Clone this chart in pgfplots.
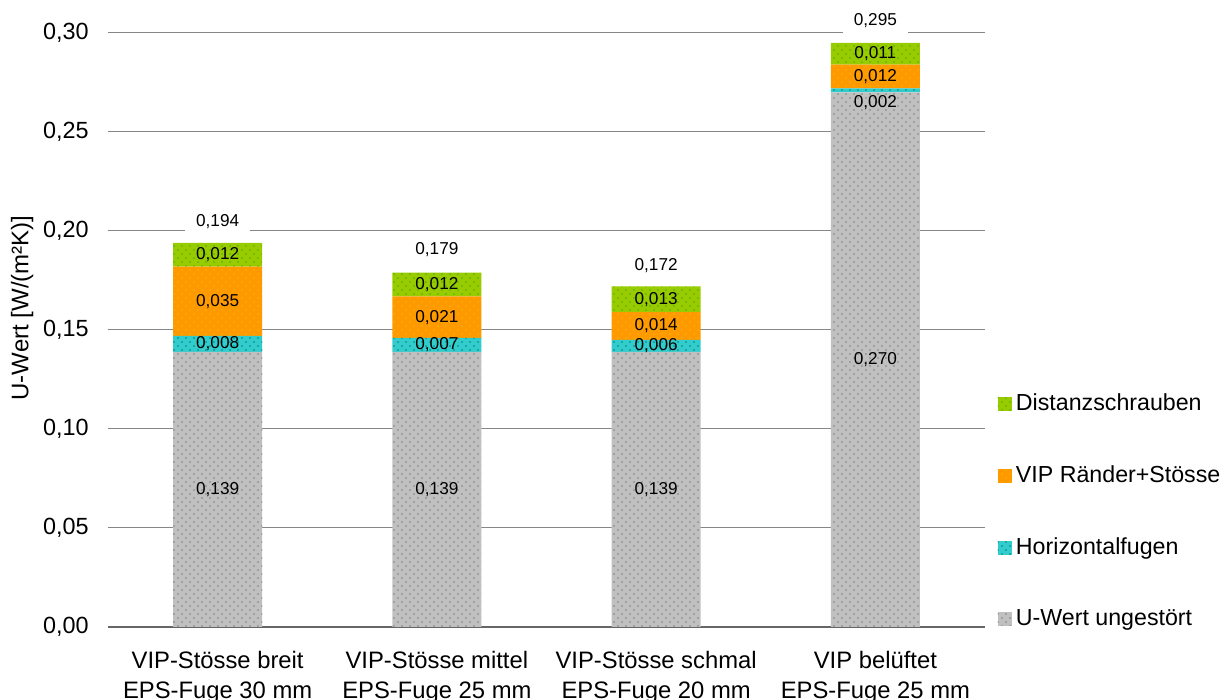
\documentclass[border=0pt]{standalone}
\usepackage{pgfplots}
\pgfplotsset{compat=1.18}
\usepackage{fontspec}
\setmainfont{Liberation Sans}
\usetikzlibrary{patterns.meta}
\definecolor{cgray}{HTML}{C0C0C0}
\definecolor{cteal}{HTML}{33CCCC}
\definecolor{corange}{HTML}{FF9900}
\definecolor{cgreen}{HTML}{99CC00}
\definecolor{gridgray}{HTML}{868686}
\tikzdeclarepattern{
  name=sparsedots,
  type=uncolored,
  bottom left={(-.5pt,-.5pt)},
  top right={(4.5pt,4.5pt)},
  tile size={(4pt,4pt)},
  code={\fill (1pt,1pt) circle (0.4pt); \fill (3pt,3pt) circle (0.4pt);}
}
\tikzset{
  lbl/.style={font=\fontsize{8.6}{10}\selectfont, inner sep=0pt},
  tot/.style={font=\fontsize{8.6}{10}\selectfont, fill=white, inner xsep=5.5pt, inner ysep=4pt},
}
\pgfplotsset{
  common/.style={
    at={(54pt,36.5pt)}, anchor=south west,
    scale only axis, width=438.5pt, height=297pt,
    xmin=-0.5, xmax=3.5, ymin=0, ymax=0.30,
  }
}
\begin{document}
\begin{tikzpicture}
\useasboundingbox (0,0) rectangle (614pt,350pt);
\begin{axis}[
  common,
  ybar stacked, bar width=44.5pt,
  xtick={0,1,2,3},
  xticklabels={{VIP-Stösse breit\\EPS-Fuge 30 mm},{VIP-Stösse mittel\\EPS-Fuge 25 mm},{VIP-Stösse schmal\\EPS-Fuge 20 mm},{VIP belüftet\\EPS-Fuge 25 mm}},
  xticklabel style={align=center, font=\fontsize{11.9}{15}\selectfont, anchor=north, yshift=-8.6pt},
  ytick={0,0.05,0.1,0.15,0.2,0.25,0.3},
  scaled y ticks=false,
  yticklabel style={font=\fontsize{11.7}{13}\selectfont, anchor=east, inner sep=0pt, xshift=-9.5pt,
    /pgf/number format/fixed, /pgf/number format/fixed zerofill,
    /pgf/number format/precision=2, /pgf/number format/use comma,
    /pgf/number format/assume math mode=true},
  ymajorgrids, grid style={draw=gridgray, line width=0.5pt},
  major tick length=0pt,
  axis x line*=bottom, axis y line*=left,
  x axis line style={-, draw=gray!80!black, line width=0.6pt},
  y axis line style={draw=none},
  ylabel={U-Wert [W/(m²K)]},
  ylabel style={at={(axis description cs:-0.098,0.537)}, anchor=center, font=\fontsize{12}{14}\selectfont},
  legend style={at={(axis description cs:1.0075,0.4064)}, anchor=north west, draw=none, fill=none,
    font=\fontsize{11.6}{13}\selectfont, row sep=22pt, legend cell align=left},
  reverse legend,
  legend image code/.code={\fill[#1] (0pt,-3.5pt) rectangle (7pt,3.5pt);},
]
\addplot[fill=cgray, draw=none, postaction={pattern=sparsedots, pattern color=gray}]
  coordinates {(0,0.139) (1,0.139) (2,0.139) (3,0.270)};
\addlegendentry{U-Wert ungestört}
\addplot[fill=cteal, draw=none, postaction={pattern=sparsedots, pattern color=teal}]
  coordinates {(0,0.008) (1,0.007) (2,0.006) (3,0.002)};
\addlegendentry{Horizontalfugen}
\addplot[fill=corange, draw=none, postaction={pattern=sparsedots, pattern color=orange!60!yellow}]
  coordinates {(0,0.035) (1,0.021) (2,0.014) (3,0.012)};
\addlegendentry{VIP Ränder+Stösse}
\addplot[fill=cgreen, draw=none, postaction={pattern=sparsedots, pattern color=green!40!olive}]
  coordinates {(0,0.012) (1,0.012) (2,0.013) (3,0.011)};
\addlegendentry{Distanzschrauben}
\end{axis}
\begin{axis}[common, hide axis, clip=false]
\node[lbl] at (axis cs:0,0.0695) {0,139};
\node[lbl] at (axis cs:0,0.143) {0,008};
\node[lbl] at (axis cs:0,0.1645) {0,035};
\node[lbl] at (axis cs:0,0.188) {0,012};
\node[tot] at (axis cs:0,0.2045) {0,194};
\node[lbl] at (axis cs:1,0.0695) {0,139};
\node[lbl] at (axis cs:1,0.1425) {0,007};
\node[lbl] at (axis cs:1,0.1565) {0,021};
\node[lbl] at (axis cs:1,0.173) {0,012};
\node[tot] at (axis cs:1,0.1905) {0,179};
\node[lbl] at (axis cs:2,0.0695) {0,139};
\node[lbl] at (axis cs:2,0.142) {0,006};
\node[lbl] at (axis cs:2,0.152) {0,014};
\node[lbl] at (axis cs:2,0.1655) {0,013};
\node[tot] at (axis cs:2,0.1825) {0,172};
\node[lbl] at (axis cs:3,0.135) {0,270};
\node[lbl] at (axis cs:3,0.265) {0,002};
\node[lbl] at (axis cs:3,0.278) {0,012};
\node[lbl] at (axis cs:3,0.2895) {0,011};
\node[tot] at (axis cs:3,0.3065) {0,295};
\end{axis}
\end{tikzpicture}
\end{document}
